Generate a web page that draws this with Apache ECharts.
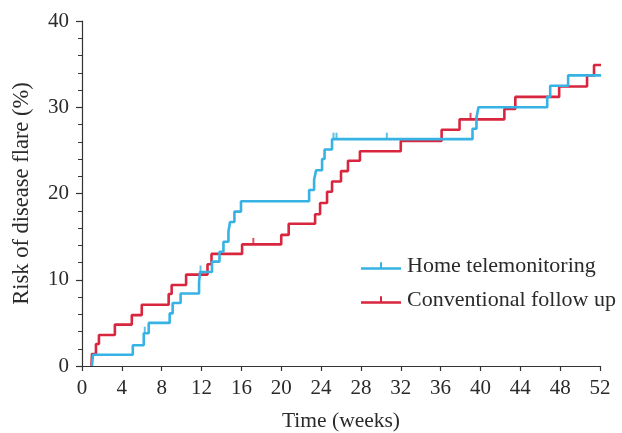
<!DOCTYPE html>
<html>
<head>
<meta charset="utf-8">
<script src="https://cdn.jsdelivr.net/npm/echarts@6/dist/echarts.min.js"></script>
<style>html,body{margin:0;padding:0;background:#fff;}#c{width:622px;height:433px;}</style>
</head>
<body>
<div id="c"></div>
<script>
// Home telemonitoring: step times (weeks) and cumulative risk (%) after each step
var homeTimes  = [1.0, 1.1, 5.1, 6.2, 6.7, 8.8, 9.1, 9.9, 11.75, 11.85, 13.05, 13.8, 14.2, 14.7, 14.86, 15.3, 15.96, 22.8, 23.3, 23.5, 24.1, 24.35, 25.1, 39.2, 39.6, 39.8, 46.7, 47.0, 48.8, 52.1];
var homeValues = [0, 1.3, 2.4, 3.8, 5.0, 6.1, 7.3, 8.4, 9.7, 10.9, 12.1, 13.25, 14.4, 15.6, 16.7, 17.9, 19.1, 20.4, 21.6, 22.7, 24.0, 25.1, 26.3, 27.5, 28.8, 30.0, 31.2, 32.5, 33.7, 33.7];
var homeCensorTimes  = [6.3, 11.9, 25.25, 25.55, 30.6, 52.1];
var homeCensorValues = [3.8, 10.9, 26.3, 26.3, 26.3, 33.7];

// Conventional follow up
var convTimes  = [0.95, 1.0, 1.4, 1.7, 3.3, 5.0, 6.0, 8.7, 9.0, 10.45, 12.6, 13.0, 16.07, 20.0, 20.75, 23.4, 23.9, 24.6, 25.1, 26.0, 26.7, 27.9, 32.0, 36.1, 37.9, 42.4, 43.5, 47.9, 50.7, 51.4, 52.1];
var convValues = [0, 1.4, 2.55, 3.6, 4.8, 5.9, 7.1, 8.35, 9.4, 10.6, 11.8, 13.0, 14.1, 15.2, 16.5, 17.6, 18.9, 20.2, 21.4, 22.6, 23.8, 24.9, 26.1, 27.4, 28.6, 29.8, 31.2, 32.4, 33.7, 34.9, 34.9];
var convCensorTimes  = [17.2, 39.0, 52.1];
var convCensorValues = [14.1, 28.6, 34.9];

var xTicks = {min: 0, max: 52, interval: 4};
var yTicks = {min: 0, max: 40, interval: 10};

var seriesNames = ['Home telemonitoring', 'Conventional follow up'];
var blue = '#36b2e4';
var red = '#d8263e';

function zip(a, b) { return a.map(function (v, i) { return [v, b[i]]; }); }

var font = 'Liberation Serif';
var chart = echarts.init(document.getElementById('c'));
var legendIcon = 'path://M0,5 L40,5 L40,7.4 L0,7.4 Z M19,0 L21,0 L21,6 L19,6 Z';
chart.setOption({
  animation: false,
  backgroundColor: '#fff',
  grid: {left: 82, right: 22, top: 21, bottom: 67, containLabel: false, outerBoundsMode: 'none'},
  legend: {
    data: [
      {name: seriesNames[0], icon: legendIcon},
      {name: seriesNames[1], icon: legendIcon}
    ],
    orient: 'vertical',
    left: 356,
    top: 250,
    itemWidth: 40,
    itemHeight: 8,
    itemGap: 12,
    textStyle: {fontFamily: font, fontSize: 22, color: '#2a2a2a', padding: [0, 0, 0, 1]}
  },
  xAxis: {
    type: 'value',
    min: xTicks.min, max: xTicks.max, interval: xTicks.interval,
    name: 'Time (weeks)', nameLocation: 'middle', nameGap: 44,
    nameTextStyle: {fontFamily: font, fontSize: 21.5, color: '#2a2a2a'},
    axisLine: {lineStyle: {color: '#333', width: 1.2}},
    axisTick: {length: 5, lineStyle: {color: '#333', width: 1.2}},
    axisLabel: {fontFamily: font, fontSize: 21, color: '#2a2a2a', margin: 12},
    splitLine: {show: false}
  },
  yAxis: {
    type: 'value',
    min: yTicks.min, max: yTicks.max, interval: yTicks.interval,
    name: 'Risk of disease flare (%)', nameLocation: 'middle', nameGap: 48,
    nameTextStyle: {fontFamily: font, fontSize: 22.5, color: '#2a2a2a'},
    axisLine: {show: true, lineStyle: {color: '#333', width: 1.2}},
    axisTick: {show: true, length: 6, lineStyle: {color: '#333', width: 1.2}},
    minorTick: {show: true, splitNumber: 5, length: 4, lineStyle: {color: '#333', width: 1}},
    axisLabel: {fontFamily: font, fontSize: 21, color: '#2a2a2a', margin: 13},
    splitLine: {show: false}
  },
  series: [
    {
      name: seriesNames[1], type: 'line', step: 'end', data: zip(convTimes, convValues),
      showSymbol: false, symbol: 'none', color: red,
      lineStyle: {color: red, width: 2.6}, z: 3
    },
    {
      name: seriesNames[0], type: 'line', step: 'end', data: zip(homeTimes, homeValues),
      showSymbol: false, symbol: 'none', color: blue,
      lineStyle: {color: blue, width: 2.6}, z: 4
    },
    {
      name: 'convCensor', type: 'scatter', data: zip(convCensorTimes, convCensorValues),
      symbol: 'rect', symbolSize: [2, 7], symbolOffset: [0, -3], itemStyle: {color: red}, z: 5
    },
    {
      name: 'homeCensor', type: 'scatter', data: zip(homeCensorTimes, homeCensorValues),
      symbol: 'rect', symbolSize: [2, 7], symbolOffset: [0, -3], itemStyle: {color: blue}, z: 6
    }
  ]
});
</script>
</body>
</html>
